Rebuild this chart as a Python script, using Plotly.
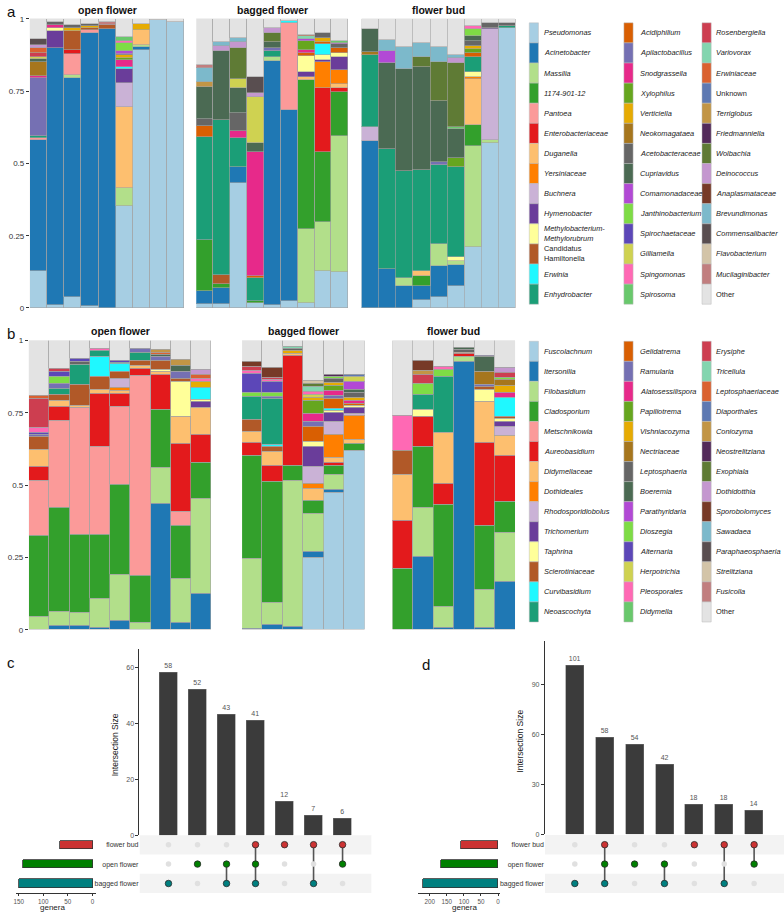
import plotly.graph_objects as go

W, H = 784, 918
def fx(px): return px / W
def fy(py): return 1 - py / H

FONT = "Liberation Sans, Arial, Helvetica, sans-serif"

# ---------------- taxa & palette ----------------
BAC_TAXA = ["Pseudomonas", "Acinetobacter", "Massilia", "1174-901-12", "Pantoea", "Enterobacteriaceae",
            "Duganella", "Yersiniaceae", "Buchnera", "Hymenobacter", "Methylobacterium-Methylorubrum",
            "Candidatus Hamiltonella", "Erwinia", "Enhydrobacter",
            "Acidiphilium", "Apilactobacillus", "Snodgrassella", "Xylophilus", "Verticiella", "Neokomagataea",
            "Acetobacteraceae", "Cupriavidus", "Comamonadaceae", "Janthinobacterium", "Spirochaetaceae",
            "Gilliamella", "Spingomonas", "Spirosoma",
            "Rosenbergiella", "Variovorax", "Erwiniaceae", "Unknown", "Terriglobus", "Friedmanniella",
            "Wolbachia", "Deinococcus", "Anaplasmataceae", "Brevundimonas", "Commensalibacter",
            "Flavobacterium", "Mucilaginibacter", "Other"]

FUN_TAXA = ["Fuscolachnum", "Itersonilia", "Filobasidium", "Cladosporium", "Metschnikowia", "Aureobasidium",
            "Didymellaceae", "Dothideales", "Rhodosporidiobolus", "Trichomerium", "Taphrina", "Sclerotiniaceae",
            "Curvibasidium", "Neoascochyta",
            "Gelidatrema", "Ramularia", "Alatosessilispora", "Papiliotrema", "Vishniacozyma", "Nectriaceae",
            "Leptosphaeria", "Boeremia", "Parathyridaria", "Dioszegia", "Alternaria", "Herpotrichia",
            "Pleosporales", "Didymella",
            "Erysiphe", "Tricellula", "Leptosphaeriaceae", "Diaporthales", "Coniozyma", "Neostrelitziana",
            "Exophiala", "Dothidotthia", "Sporobolomyces", "Sawadaea", "Paraphaeosphaeria", "Strelitziana",
            "Fusicolla", "Other"]

PALETTE = ["#A6CEE3", "#1F78B4", "#B2DF8A", "#33A02C", "#FB9A99", "#E31A1C", "#FDBF6F", "#FF7F00",
           "#CAB2D6", "#6A3D9A", "#FFFF99", "#B15928", "#1FF8FF", "#1B9E77",
           "#D95F02", "#7570B3", "#E7298A", "#66A61E", "#E6AB02", "#A6761D", "#666666", "#4B6A53",
           "#B249D5", "#7EDC45", "#5C47B8", "#CFD251", "#FF69B4", "#69C86C",
           "#CD3E50", "#83D5AF", "#DA6130", "#5E79B2", "#C29545", "#532A5A", "#5F7B35", "#C497CF",
           "#773A27", "#7CB9CB", "#594E50", "#D3C4A8", "#C17E7F", "#E3E3E3"]

UPRIGHT = {"Unknown", "Other", "Candidatus Hamiltonella"}
LABEL_BREAKS = {"Methylobacterium-Methylorubrum": "Methylobacterium-<br>Methylorubrum",
                "Candidatus Hamiltonella": "Candidatus<br>Hamiltonella"}

FACETS = ["open flower", "bagged flower", "flower bud"]

# ---------------- panel a: bacterial relative abundance (one dict per sample) ----------------
A_OPEN = [
    {"Pseudomonas": .130, "Acinetobacter": .450, "Pantoea": .008, "Enhydrobacter": .007, "Apilactobacillus": .200,
     "Snodgrassella": .008, "Neokomagataea": .050, "Cupriavidus": .007, "Gilliamella": .007, "Rosenbergiella": .017,
     "Erwiniaceae": .017, "Deinococcus": .009, "Commensalibacter": .020},
    {"Pseudomonas": .010, "Acinetobacter": .890, "Hymenobacter": .060, "Methylobacterium-Methylorubrum": .008,
     "Snodgrassella": .011, "Acetobacteraceae": .009},
    {"Pseudomonas": .037, "Acinetobacter": .760, "Massilia": .008, "Pantoea": .074, "Enterobacteriaceae": .013,
     "Candidatus Hamiltonella": .068, "Verticiella": .009, "Acetobacteraceae": .010},
    {"Pseudomonas": .006, "Acinetobacter": .945, "Pantoea": .011, "Candidatus Hamiltonella": .007,
     "Verticiella": .006, "Acetobacteraceae": .009},
    {"Acinetobacter": .967, "Candidatus Hamiltonella": .012, "Mucilaginibacter": .012},
    {"Pseudomonas": .352, "Massilia": .065, "Duganella": .280, "Buchnera": .083, "Hymenobacter": .046,
     "Erwinia": .008, "Snodgrassella": .023, "Xylophilus": .009, "Verticiella": .008, "Acetobacteraceae": .006,
     "Comamonadaceae": .011, "Janthinobacterium": .025, "Spingomonas": .008, "Spirosoma": .015},
    {"Pseudomonas": .894, "Acinetobacter": .008, "Massilia": .009, "Duganella": .050, "Verticiella": .020},
    {"Pseudomonas": .995},
    {"Pseudomonas": .990},
]
A_BAGGED = [
    {"Pseudomonas": .014, "Acinetobacter": .046, "1174-901-12": .175, "Enhydrobacter": .356, "Acidiphilium": .038,
     "Acetobacteraceae": .025, "Cupriavidus": .110, "Terriglobus": .019, "Brevundimonas": .049,
     "Mucilaginibacter": .008},
    {"Pseudomonas": .014, "Acinetobacter": .055, "1174-901-12": .014, "Candidatus Hamiltonella": .030,
     "Enhydrobacter": .536, "Cupriavidus": .239, "Deinococcus": .020, "Brevundimonas": .011},
    {"Pseudomonas": .434, "Acinetobacter": .054, "Enhydrobacter": .100, "Snodgrassella": .025,
     "Acetobacteraceae": .063, "Cupriavidus": .087, "Gilliamella": .031, "Wolbachia": .105, "Deinococcus": .020,
     "Brevundimonas": .015},
    {"Pseudomonas": .017, "1174-901-12": .008, "Enhydrobacter": .078, "Acidiphilium": .009, "Snodgrassella": .427,
     "Cupriavidus": .032, "Gilliamella": .160, "Deinococcus": .014, "Commensalibacter": .053},
    {"Pseudomonas": .011, "Acinetobacter": .845, "Massilia": .011, "Enhydrobacter": .023, "Apilactobacillus": .008,
     "Cupriavidus": .023, "Wolbachia": .032, "Deinococcus": .017},
    {"Pseudomonas": .026, "Acinetobacter": .660, "Pantoea": .300, "Erwinia": .008},
    {"Pseudomonas": .017, "Massilia": .257, "1174-901-12": .514, "Duganella": .011, "Hymenobacter": .019,
     "Methylobacterium-Methylorubrum": .055, "Acidiphilium": .011, "Xylophilus": .031, "Snodgrassella": .008,
     "Comamonadaceae": .008, "Variovorax": .009, "Erwiniaceae": .006},
    {"Pseudomonas": .128, "Massilia": .171, "1174-901-12": .240, "Enterobacteriaceae": .224, "Yersiniaceae": .088,
     "Hymenobacter": .008, "Methylobacterium-Methylorubrum": .018, "Erwinia": .037, "Acidiphilium": .008,
     "Verticiella": .011, "Acetobacteraceae": .017},
    {"Pseudomonas": .126, "Massilia": .468, "1174-901-12": .154, "Enterobacteriaceae": .015, "Duganella": .011,
     "Yersiniaceae": .048, "Hymenobacter": .048, "Methylobacterium-Methylorubrum": .011, "Acidiphilium": .020,
     "Acetobacteraceae": .011, "Comamonadaceae": .006, "Spirosoma": .006},
]
A_BUD = [
    {"Acinetobacter": .577, "Buchnera": .049, "Enhydrobacter": .250, "Neokomagataea": .009, "Cupriavidus": .080},
    {"Acinetobacter": .137, "Enhydrobacter": .414, "Cupriavidus": .296, "Comamonadaceae": .041,
     "Brevundimonas": .039},
    {"Acinetobacter": .078, "Massilia": .027, "Enhydrobacter": .369, "Cupriavidus": .354, "Brevundimonas": .074},
    {"Pseudomonas": .029, "Acinetobacter": .049, "1174-901-12": .034, "Duganella": .016, "Enhydrobacter": .349,
     "Cupriavidus": .356, "Wolbachia": .037, "Brevundimonas": .046},
    {"Pseudomonas": .040, "Acinetobacter": .106, "Massilia": .076, "Enhydrobacter": .274, "Apilactobacillus": .011,
     "Cupriavidus": .211, "Wolbachia": .135, "Brevundimonas": .050},
    {"Pseudomonas": .078, "Acinetobacter": .071, "Massilia": .014, "Methylobacterium-Methylorubrum": .015,
     "Enhydrobacter": .310, "Xylophilus": .032, "Cupriavidus": .099, "Spirosoma": .009, "Wolbachia": .219,
     "Deinococcus": .018, "Brevundimonas": .010},
    {"Pseudomonas": .211, "Massilia": .350, "1174-901-12": .072, "Duganella": .160, "Yersiniaceae": .008,
     "Methylobacterium-Methylorubrum": .015, "Enhydrobacter": .051, "Acidiphilium": .014, "Xylophilus": .015,
     "Verticiella": .011, "Acetobacteraceae": .017, "Cupriavidus": .017, "Janthinobacterium": .026,
     "Spingomonas": .008},
    {"Pseudomonas": .571, "Massilia": .011, "Buchnera": .382, "Hymenobacter": .006, "Acetobacteraceae": .017},
    {"Pseudomonas": .968, "Enhydrobacter": .008, "Acetobacteraceae": .011},
]

# ---------------- panel b: fungal relative abundance ----------------
B_OPEN = [
    {"Filobasidium": .046, "Cladosporium": .280, "Metschnikowia": .190, "Aureobasidium": .048, "Didymellaceae": .060,
     "Sclerotiniaceae": .044, "Ramularia": .006, "Alternaria": .009, "Pleosporales": .015, "Erysiphe": .100,
     "Leptosphaeriaceae": .011},
    {"Itersonilia": .014, "Filobasidium": .050, "Cladosporium": .360, "Metschnikowia": .300, "Aureobasidium": .048,
     "Didymellaceae": .020, "Sclerotiniaceae": .020, "Neoascochyta": .023, "Ramularia": .017, "Dioszegia": .023,
     "Alternaria": .017, "Erysiphe": .011},
    {"Itersonilia": .014, "Filobasidium": .046, "Cladosporium": .268, "Metschnikowia": .440, "Didymellaceae": .008,
     "Sclerotiniaceae": .072, "Neoascochyta": .068, "Leptosphaeria": .011, "Alternaria": .011},
    {"Itersonilia": .006, "Filobasidium": .103, "Cladosporium": .219, "Metschnikowia": .304, "Aureobasidium": .186,
     "Didymellaceae": .014, "Sclerotiniaceae": .043, "Curvibasidium": .068, "Neoascochyta": .023,
     "Pleosporales": .006},
    {"Itersonilia": .033, "Filobasidium": .157, "Cladosporium": .311, "Metschnikowia": .270, "Aureobasidium": .046,
     "Didymellaceae": .011, "Dothideales": .011, "Rhodosporidiobolus": .029, "Sclerotiniaceae": .026,
     "Curvibasidium": .025, "Neoascochyta": .006, "Alternaria": .006},
    {"Filobasidium": .025, "Cladosporium": .163, "Metschnikowia": .690, "Aureobasidium": .026, "Didymellaceae": .008,
     "Sclerotiniaceae": .019, "Neoascochyta": .026, "Ramularia": .017},
    {"Itersonilia": .436, "Filobasidium": .125, "Cladosporium": .200, "Aureobasidium": .120, "Didymellaceae": .011,
     "Taphrina": .006, "Sclerotiniaceae": .034, "Ramularia": .011, "Boeremia": .008, "Leptosphaeriaceae": .009,
     "Coniozyma": .009},
    {"Itersonilia": .025, "Filobasidium": .152, "Cladosporium": .182, "Metschnikowia": .048, "Aureobasidium": .237,
     "Didymellaceae": .094, "Taphrina": .120, "Sclerotiniaceae": .011, "Ramularia": .023, "Boeremia": .021,
     "Coniozyma": .023},
    {"Itersonilia": .125, "Filobasidium": .330, "Cladosporium": .124, "Aureobasidium": .097, "Didymellaceae": .092,
     "Trichomerium": .020, "Taphrina": .009, "Curvibasidium": .042, "Vishniacozyma": .020, "Pleosporales": .009,
     "Leptosphaeriaceae": .014, "Dothidotthia": .019},
]
B_BAGGED = [
    {"Itersonilia": .005, "Filobasidium": .240, "Cladosporium": .358, "Aureobasidium": .043, "Didymellaceae": .040,
     "Sclerotiniaceae": .040, "Neoascochyta": .082, "Dioszegia": .011, "Alternaria": .068, "Pleosporales": .008,
     "Erysiphe": .015, "Sporobolomyces": .017},
    {"Itersonilia": .017, "Filobasidium": .076, "Cladosporium": .418, "Aureobasidium": .055, "Didymellaceae": .049,
     "Sclerotiniaceae": .017, "Curvibasidium": .008, "Neoascochyta": .160, "Ramularia": .008, "Dioszegia": .013,
     "Alternaria": .036, "Pleosporales": .007, "Erysiphe": .007, "Sporobolomyces": .034},
    {"Itersonilia": .010, "Filobasidium": .505, "Cladosporium": .051, "Aureobasidium": .382, "Didymellaceae": .008,
     "Vishniacozyma": .008, "Leptosphaeria": .010, "Tricellula": .006},
    {"Fuscolachnum": .250, "Itersonilia": .020, "Filobasidium": .131, "Cladosporium": .046, "Didymellaceae": .042,
     "Dothideales": .015, "Rhodosporidiobolus": .060, "Trichomerium": .071, "Taphrina": .014, "Gelidatrema": .052,
     "Ramularia": .019, "Alatosessilispora": .029, "Papiliotrema": .043, "Vishniacozyma": .011,
     "Herpotrichia": .011, "Pleosporales": .011, "Tricellula": .016, "Exophiala": .011, "Strelitziana": .011},
    {"Fuscolachnum": .473, "Itersonilia": .010, "Filobasidium": .052, "Cladosporium": .033, "Aureobasidium": .009,
     "Didymellaceae": .017, "Dothideales": .082, "Rhodosporidiobolus": .043, "Trichomerium": .031, "Taphrina": .008,
     "Curvibasidium": .008, "Gelidatrema": .034, "Ramularia": .011, "Alatosessilispora": .015,
     "Papiliotrema": .017, "Vishniacozyma": .011, "Leptosphaeria": .014, "Dioszegia": .008,
     "Neostrelitziana": .008},
    {"Fuscolachnum": .620, "Cladosporium": .023, "Didymellaceae": .016, "Dothideales": .080,
     "Rhodosporidiobolus": .009, "Trichomerium": .021, "Taphrina": .006, "Gelidatrema": .008,
     "Alatosessilispora": .011, "Vishniacozyma": .008, "Leptosphaeria": .017, "Boeremia": .010,
     "Parathyridaria": .029, "Herpotrichia": .016, "Diaporthales": .009},
]
B_BUD = [
    {"Cladosporium": .211, "Aureobasidium": .168, "Didymellaceae": .157, "Sclerotiniaceae": .082,
     "Pleosporales": .122},
    {"Itersonilia": .253, "Filobasidium": .168, "Cladosporium": .212, "Aureobasidium": .105, "Taphrina": .025,
     "Neoascochyta": .049, "Dioszegia": .040, "Erysiphe": .029, "Coniozyma": .015, "Sporobolomyces": .034},
    {"Itersonilia": .008, "Filobasidium": .071, "Cladosporium": .355, "Aureobasidium": .073, "Didymellaceae": .174,
     "Neoascochyta": .196, "Dioszegia": .023, "Pleosporales": .009},
    {"Itersonilia": .926, "Filobasidium": .017, "Aureobasidium": .011, "Didymellaceae": .006, "Leptosphaeria": .008,
     "Boeremia": .007},
    {"Itersonilia": .006, "Filobasidium": .133, "Cladosporium": .222, "Aureobasidium": .285, "Didymellaceae": .143,
     "Taphrina": .043, "Sclerotiniaceae": .009, "Ramularia": .008, "Nectriaceae": .043, "Boeremia": .051,
     "Alternaria": .005},
    {"Itersonilia": .168, "Filobasidium": .168, "Cladosporium": .108, "Aureobasidium": .157, "Didymellaceae": .072,
     "Rhodosporidiobolus": .031, "Trichomerium": .015, "Taphrina": .011, "Sclerotiniaceae": .008,
     "Curvibasidium": .066, "Alatosessilispora": .017, "Vishniacozyma": .025, "Nectriaceae": .018,
     "Dioszegia": .008, "Erysiphe": .017, "Dothidotthia": .017},
]

# ---------------- panels c / d: UpSet data ----------------
SETS = ["bagged flower", "open flower", "flower bud"]          # bottom -> top rows
SET_COLORS = ["#008080", "#008000", "#CC3333"]
C_COMBOS = [["bagged flower"], ["open flower"], ["open flower", "bagged flower"],
            ["flower bud", "open flower", "bagged flower"], ["flower bud"],
            ["flower bud", "bagged flower"], ["flower bud", "open flower"]]
C_SIZES = [58, 52, 43, 41, 12, 7, 6]
C_SET_SIZES = [149, 142, 66]
D_COMBOS = [["bagged flower"], ["flower bud", "open flower", "bagged flower"], ["open flower"],
            ["open flower", "bagged flower"], ["flower bud"], ["flower bud", "bagged flower"],
            ["flower bud", "open flower"]]
D_SIZES = [101, 58, 54, 42, 18, 18, 14]
D_SET_SIZES = [219, 168, 108]

# =====================================================================
fig = go.Figure()
layout = dict(width=W, height=H, margin=dict(l=0, r=0, t=0, b=0), paper_bgcolor="white",
              plot_bgcolor="white", barmode="stack", bargap=0, showlegend=False,
              font=dict(family=FONT, color="#333333"))
annotations = []
shapes = []

def axname(kind, i):
    return f"{kind}axis" if i == 1 else f"{kind}axis{i}"

def axref(kind, i):
    return kind if i == 1 else f"{kind}{i}"

def hidden_x(i, dom, rng, anchor):
    layout[axname("x", i)] = dict(domain=dom, range=rng, visible=False, anchor=anchor, fixedrange=True)

def add_stacked(bars, taxa, xi, yi):
    xs = list(range(len(bars)))
    for t, col in zip(taxa, PALETTE):
        if t == "Other":
            vals = [max(0.0, 1 - sum(b.values())) for b in bars]
        else:
            vals = [b.get(t, 0) for b in bars]
        if not any(vals):
            continue
        vals = [v if v > 0 else None for v in vals]
        fig.add_trace(go.Bar(x=xs, y=vals, xaxis=axref("x", xi), yaxis=axref("y", yi), width=1.0,
                             marker=dict(color=col, line=dict(color="#A3A3A3", width=0.6)),
                             hoverinfo="skip", showlegend=False))

def stacked_panel(facet_data, taxa, x_ids, yi, facet_px, y_px, title_py):
    y0, y1 = y_px
    layout[axname("y", yi)] = dict(domain=[fy(y0), fy(y1)], range=[0, 1.0], anchor=axref("x", x_ids[0]),
                                   tickvals=[0, 0.25, 0.5, 0.75, 1], ticktext=["0", "0.25", "0.5", "0.75", "1"],
                                   ticks="outside", ticklen=3, tickcolor="#333", tickfont=dict(size=8, color="#333"),
                                   showgrid=False, zeroline=False, showline=False, fixedrange=True)
    for bars, xi, (p0, p1), name in zip(facet_data, x_ids, facet_px, FACETS):
        hidden_x(xi, [fx(p0), fx(p1)], [-0.5, len(bars) - 0.5], axref("y", yi))
        add_stacked(bars, taxa, xi, yi)
        annotations.append(dict(x=fx((p0 + p1) / 2), y=fy(title_py), xref="paper", yref="paper",
                                text=f"<b>{name}</b>", showarrow=False, font=dict(size=10.5, color="#111"),
                                xanchor="center", yanchor="middle"))

def legend_block(taxa, top_py, pitch):
    sw_x = [528.3, 623.3, 701.7]
    tx_x = [541, 637, 714]
    for k, (t, col) in enumerate(zip(taxa, PALETTE)):
        c, r = divmod(k, 14)
        ytop = top_py + r * pitch
        shapes.append(dict(type="rect", xref="paper", yref="paper", x0=fx(sw_x[c]), x1=fx(sw_x[c] + 9.2),
                           y0=fy(ytop + pitch), y1=fy(ytop), fillcolor=col,
                           line=dict(color="#BBBBBB", width=0.5)))
        lab = LABEL_BREAKS.get(t, t)
        if t not in UPRIGHT:
            lab = f"<i>{lab}</i>"
        annotations.append(dict(x=fx(tx_x[c]), y=fy(ytop + pitch / 2), xref="paper", yref="paper", text=lab,
                                showarrow=False, xanchor="left", yanchor="middle", align="left",
                                font=dict(size=7.4, color="#222")))

# panel a
stacked_panel([A_OPEN, A_BAGGED, A_BUD], BAC_TAXA, [1, 2, 3], 1,
              [(27, 182), (194, 347), (360, 515)], (307, 15), 6)
legend_block(BAC_TAXA, 19, 20.3)
# panel b
stacked_panel([B_OPEN, B_BAGGED, B_BUD], FUN_TAXA, [4, 5, 6], 2,
              [(26, 209), (240, 363), (391, 514)], (632, 340), 330)
legend_block(FUN_TAXA, 340.6, 20.25)

def upset_panel(combos, sizes, set_sizes, xm, ym, yb, xs, mat_px, bar_py, bar_top, ticks_b,
                set_px, set_rng, set_ticks, title_x, title_y, genera_x):
    m0, m1 = mat_px
    # matrix axes
    hidden_x(xm, [fx(m0), fx(m1)], [-1, 7], axref("y", ym))
    layout[axname("y", ym)] = dict(domain=[fy(898), fy(839.2)], range=[-0.5, 2.5], anchor=axref("x", xm),
                                   tickvals=[0, 1, 2], ticktext=SETS, ticks="", showline=False,
                                   showgrid=False, zeroline=False, tickfont=dict(size=7, color="#333"),
                                   fixedrange=True)
    # intersection-size axis
    layout[axname("y", yb)] = dict(domain=[fy(bar_py), fy(bar_top[0])], range=[0, bar_top[1]],
                                   anchor=axref("x", xm), tickvals=ticks_b, ticks="outside", ticklen=3,
                                   tickcolor="#333", showline=True, linecolor="#333", linewidth=1,
                                   showgrid=False, zeroline=False, tickfont=dict(size=7, color="#555"),
                                   fixedrange=True)
    # set-size axis
    layout[axname("x", xs)] = dict(domain=[fx(set_px[0]), fx(set_px[1])], range=set_rng,
                                   anchor=axref("y", ym), tickvals=set_ticks, ticks="outside", ticklen=2,
                                   tickcolor="#333", showline=True, linecolor="#333", linewidth=1,
                                   showgrid=False, zeroline=False, tickfont=dict(size=6.3, color="#555"),
                                   fixedrange=True)
    # stripes
    for r in (0, 2):
        shapes.append(dict(type="rect", xref=axref("x", xm), yref=axref("y", ym), x0=-1, x1=7,
                           y0=r - 0.5, y1=r + 0.5, fillcolor="#F3F3F3", line=dict(width=0), layer="below"))
    # intersection bars
    fig.add_trace(go.Bar(x=list(range(len(sizes))), y=sizes, width=0.6, xaxis=axref("x", xm),
                         yaxis=axref("y", yb), marker=dict(color="#3B3B3B", line=dict(color="#777", width=0.5)),
                         text=[str(v) for v in sizes], textposition="outside", cliponaxis=False,
                         textfont=dict(size=7, color="#555"), hoverinfo="skip"))
    # set-size bars
    fig.add_trace(go.Bar(x=set_sizes, y=[0, 1, 2], orientation="h", width=0.42, xaxis=axref("x", xs),
                         yaxis=axref("y", ym), marker=dict(color=SET_COLORS, line=dict(color="#333", width=0.8)),
                         hoverinfo="skip"))
    # connecting lines + dots
    ex, ey, fxs, fys, fcs = [], [], [], [], []
    for i, combo in enumerate(combos):
        rows = [SETS.index(s) for s in combo]
        if len(rows) > 1:
            fig.add_trace(go.Scatter(x=[i, i], y=[min(rows), max(rows)], mode="lines",
                                     line=dict(color="#555", width=1.6), xaxis=axref("x", xm),
                                     yaxis=axref("y", ym), hoverinfo="skip"))
        for r in range(3):
            if r in rows:
                fxs.append(i); fys.append(r); fcs.append(SET_COLORS[r])
            else:
                ex.append(i); ey.append(r)
    fig.add_trace(go.Scatter(x=ex, y=ey, mode="markers", marker=dict(size=5.5, color="#E0E0E0"),
                             xaxis=axref("x", xm), yaxis=axref("y", ym), hoverinfo="skip"))
    fig.add_trace(go.Scatter(x=fxs, y=fys, mode="markers",
                             marker=dict(size=6.5, color=fcs, line=dict(color="#2A2A2A", width=0.8)),
                             xaxis=axref("x", xm), yaxis=axref("y", ym), hoverinfo="skip"))
    annotations.append(dict(x=fx(title_x), y=fy(title_y), xref="paper", yref="paper", text="Intersection Size",
                            textangle=-90, showarrow=False, font=dict(size=8.5, color="#222"),
                            xanchor="center", yanchor="middle"))
    annotations.append(dict(x=fx(genera_x), y=0, xref="paper", yref="paper", text="genera",
                            showarrow=False, font=dict(size=8, color="#222"), xanchor="center",
                            yanchor="bottom", yshift=-1))

upset_panel(C_COMBOS, C_SIZES, C_SET_SIZES, 7, 3, 4, 8, (137, 370), 839.5, (651, 66.6), [0, 20, 40, 60],
            (13, 93), [155.5, -6.5], [0, 50, 100, 150], 112, 748, 50)
upset_panel(D_COMBOS, D_SIZES, D_SET_SIZES, 9, 5, 6, 10, (544, 784), 838.5, (643, 116.2), [0, 30, 60, 90],
            (416.7, 499), [233.8, -5.8], [0, 50, 100, 150, 200], 519, 745, 463)

# panel letters
for letter, px, py in [("a", 2, 8), ("b", 2, 333), ("c", 2, 665), ("d", 419, 667)]:
    annotations.append(dict(x=fx(px), y=fy(py), xref="paper", yref="paper", text=letter, showarrow=False,
                            xanchor="left", yanchor="middle", font=dict(size=15, color="#111")))

layout["annotations"] = annotations
layout["shapes"] = shapes
fig.update_layout(**layout)
fig.write_html("out.html", config={"displayModeBar": False})
